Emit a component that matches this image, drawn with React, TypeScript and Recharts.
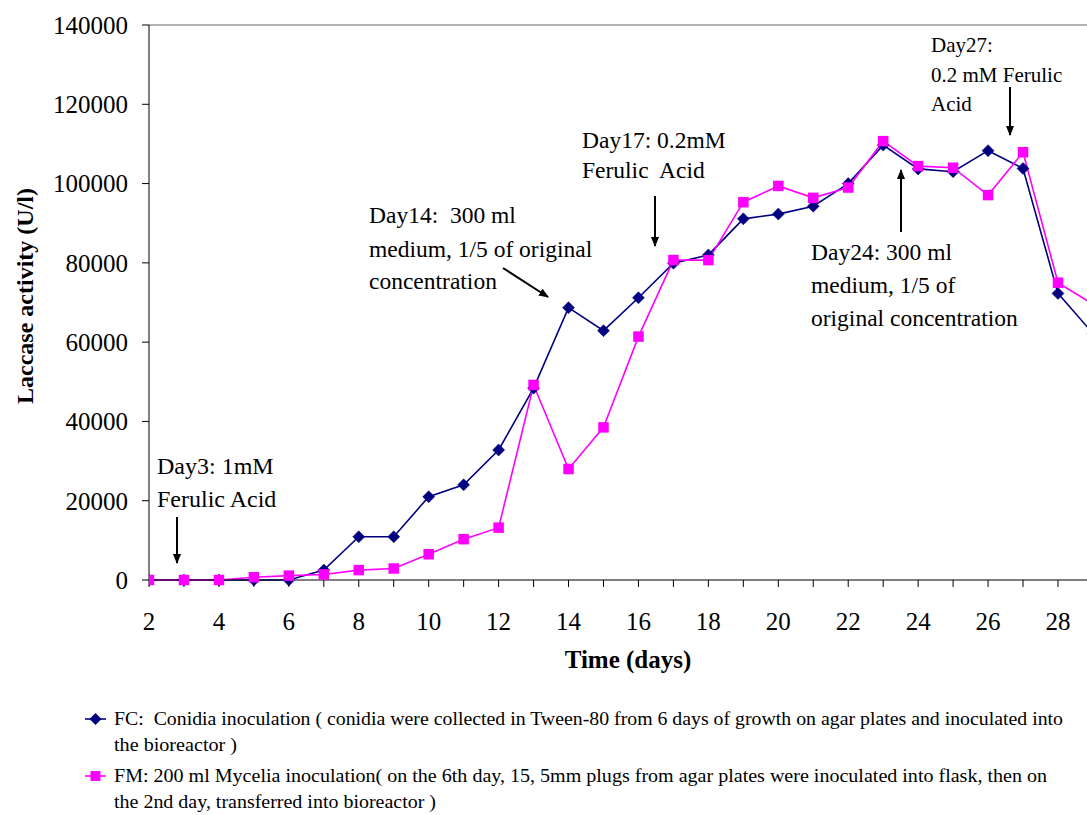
import React from 'react';
import { LineChart, Line, XAxis, YAxis, ReferenceLine, Legend } from 'recharts';

const days = [2, 3, 4, 5, 6, 7, 8, 9, 10, 11, 12, 13, 14, 15, 16, 17, 18, 19, 20, 21, 22, 23, 24, 25, 26, 27, 28, 29];
const fcValues = [0, 0, 0, 0, 0, 2500, 10900, 10900, 21000, 24000, 32800, 48400, 68700, 62900, 71200, 79900, 82000, 91100, 92300, 94300, 100000, 109700, 103700, 103000, 108300, 103800, 72300, 62200];
const fmValues = [0, 0, 0, 700, 1100, 1400, 2500, 2900, 6500, 10300, 13200, 49200, 28000, 38500, 61400, 80700, 80700, 95300, 99400, 96400, 99000, 110700, 104400, 104000, 97100, 107900, 75000, 69600];
const xTicks = [2, 3, 4, 5, 6, 7, 8, 9, 10, 11, 12, 13, 14, 15, 16, 17, 18, 19, 20, 21, 22, 23, 24, 25, 26, 27, 28];
const yTicks = [0, 20000, 40000, 60000, 80000, 100000, 120000, 140000];
const legendFC = ['FC:  Conidia inoculation ( conidia were collected in Tween-80 from 6 days of growth on agar plates and inoculated into', 'the bioreactor )'];
const legendFM = ['FM: 200 ml Mycelia inoculation( on the 6th day, 15, 5mm plugs from agar plates were inoculated into flask, then on', 'the 2nd day, transferred into bioreactor )'];
const xTitle = 'Time (days)';
const yTitle = 'Laccase activity (U/l)';

const rows = days.map((d, i) => ({ day: d, fc: fcValues[i], fm: fmValues[i] }));

const FONT = '"Liberation Serif", "Times New Roman", serif';
const NAVY = '#000080';
const MAGENTA = '#FF00FF';

const Diamond = (props: any) => {
  const { cx, cy, key } = props;
  if (cx == null || cy == null) return <g key={key} />;
  const r = 6;
  return <path key={key} d={`M${cx},${cy - r}L${cx + r},${cy}L${cx},${cy + r}L${cx - r},${cy}Z`} fill={NAVY} stroke={NAVY} strokeWidth={0.5} />;
};

const Square = (props: any) => {
  const { cx, cy, key } = props;
  if (cx == null || cy == null) return <g key={key} />;
  const s = 10.5;
  return <rect key={key} x={cx - s / 2} y={cy - s / 2} width={s} height={s} fill={MAGENTA} />;
};

const XTitle = () => (
  <text x={628} y={668} textAnchor="middle" fontFamily={FONT} fontWeight="bold" fontSize={25} fill="#000">{xTitle}</text>
);
const YTitleEl = () => (
  <text x={33} y={296} transform="rotate(-90, 33, 296)" textAnchor="middle" fontFamily={FONT} fontWeight="bold" fontSize={24} fill="#000">{yTitle}</text>
);

const LegendBox = () => (
  <svg width={1087} height={125} style={{ display: 'block' }}>
    <line x1={85} y1={29} x2={106} y2={29} stroke={NAVY} strokeWidth={1.6} />
    <path d="M95.5,23L101.5,29L95.5,35L89.5,29Z" fill={NAVY} />
    <text x={114} y={35} fontFamily={FONT} fontSize={18} textLength={949} lengthAdjust="spacingAndGlyphs" style={{ whiteSpace: 'pre' }}>{legendFC[0]}</text>
    <text x={114} y={61} fontFamily={FONT} fontSize={18} textLength={123} lengthAdjust="spacingAndGlyphs">{legendFC[1]}</text>
    <line x1={85} y1={86} x2={106} y2={86} stroke={MAGENTA} strokeWidth={1.6} />
    <rect x={90.5} y={81} width={10} height={10} fill={MAGENTA} />
    <text x={114} y={92} fontFamily={FONT} fontSize={18} textLength={933} lengthAdjust="spacingAndGlyphs">{legendFM[0]}</text>
    <text x={114} y={118} fontFamily={FONT} fontSize={18} textLength={322} lengthAdjust="spacingAndGlyphs">{legendFM[1]}</text>
  </svg>
);

const arrows = [
  { x1: 177, y1: 517, x2: 177, y2: 563 },
  { x1: 503, y1: 268, x2: 548, y2: 297 },
  { x1: 655, y1: 196, x2: 655, y2: 246 },
  { x1: 901, y1: 232, x2: 901, y2: 170 },
  { x1: 1010, y1: 87, x2: 1010, y2: 135 },
];
const notes = [
  { x: 157, y: 474, t: 'Day3: 1mM', s: 24 },
  { x: 157, y: 507, t: 'Ferulic Acid', s: 24 },
  { x: 369, y: 223, t: 'Day14:  300 ml', s: 23.5 },
  { x: 369, y: 257, t: 'medium, 1/5 of original', s: 23.5 },
  { x: 369, y: 289, t: 'concentration', s: 23.5 },
  { x: 582, y: 148, t: 'Day17: 0.2mM', s: 23.5 },
  { x: 582, y: 178, t: 'Ferulic  Acid', s: 23.5 },
  { x: 811, y: 260, t: 'Day24: 300 ml', s: 23.5 },
  { x: 811, y: 293, t: 'medium, 1/5 of', s: 23.5 },
  { x: 811, y: 326, t: 'original concentration', s: 23.5 },
  { x: 931, y: 52, t: 'Day27:', s: 21 },
  { x: 931, y: 82, t: '0.2 mM Ferulic', s: 21 },
  { x: 931, y: 111, t: 'Acid', s: 21 },
];

export default function App() {
  return (
    <div style={{ position: 'absolute', left: 0, top: 0, width: 1087, height: 815, background: '#fff', overflow: 'hidden' }}>
      <LineChart width={1087} height={815} data={rows} margin={{ top: 25, right: 0, bottom: 125, left: 0 }}>
        <XAxis
          dataKey="day"
          type="number"
          domain={[2, 28.83]}
          allowDataOverflow
          ticks={xTicks}
          interval={0}
          tickFormatter={(v: number) => (v % 2 === 0 ? String(v) : '')}
          tickSize={7}
          tickMargin={25}
          height={110}
          stroke="#000"
          tick={{ fill: '#000', fontSize: 25, fontFamily: FONT }}
          label={<XTitle />}
        />
        <YAxis
          type="number"
          domain={[0, 140000]}
          ticks={yTicks}
          interval={0}
          tickFormatter={(v: number) => String(v)}
          tickSize={7}
          tickMargin={14}
          width={149}
          stroke="#000"
          tick={{ fill: '#000', fontSize: 25, fontFamily: FONT }}
          label={<YTitleEl />}
        />
        <ReferenceLine y={140000} stroke="#666" strokeWidth={1.2} />
        <Line type="linear" dataKey="fc" stroke={NAVY} strokeWidth={1.6} dot={Diamond} activeDot={false} isAnimationActive={false} />
        <Line type="linear" dataKey="fm" stroke={MAGENTA} strokeWidth={1.6} dot={Square} activeDot={false} isAnimationActive={false} />
        <Legend
          layout="horizontal"
          verticalAlign="middle"
          align="center"
          wrapperStyle={{ left: 0, top: 690, width: 1087, height: 125 }}
          content={() => <LegendBox />}
        />
      </LineChart>
      <svg width={1087} height={815} style={{ position: 'absolute', left: 0, top: 0, pointerEvents: 'none' }}>
        <defs>
          <marker id="ah" viewBox="0 0 10 10" refX="9" refY="5" markerWidth="10" markerHeight="10" markerUnits="userSpaceOnUse" orient="auto">
            <path d="M0,1L10,5L0,9Z" fill="#000" />
          </marker>
        </defs>
        {arrows.map((a, i) => (
          <line key={i} x1={a.x1} y1={a.y1} x2={a.x2} y2={a.y2} stroke="#000" strokeWidth={2} markerEnd="url(#ah)" />
        ))}
        {notes.map((n, i) => (
          <text key={i} x={n.x} y={n.y} fontFamily={FONT} fontSize={n.s} fill="#000" style={{ whiteSpace: 'pre' }}>{n.t}</text>
        ))}
      </svg>
    </div>
  );
}
